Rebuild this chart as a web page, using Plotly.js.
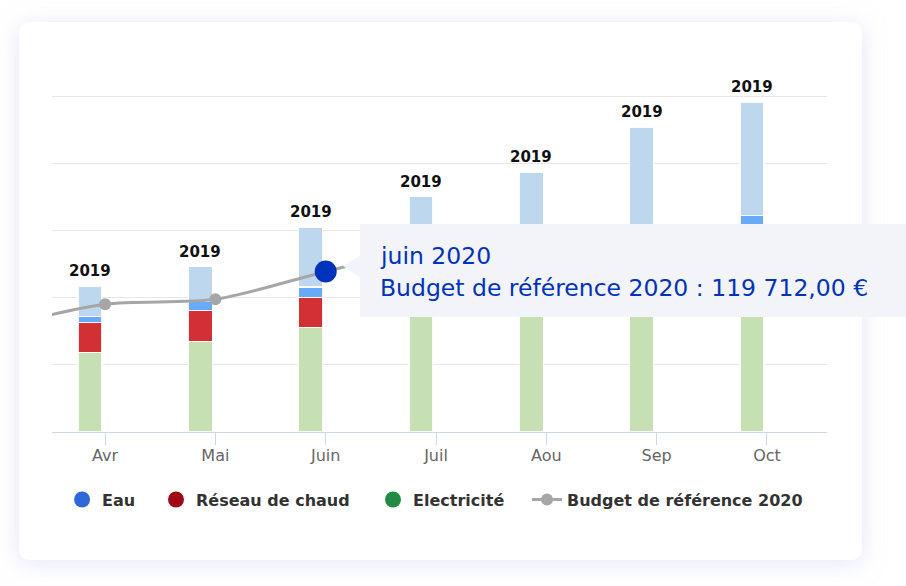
<!DOCTYPE html>
<html>
<head>
<meta charset="utf-8">
<script src="https://cdn.plot.ly/plotly-3.0.1.min.js"></script>
<style>
  html, body { margin: 0; padding: 0; background: #ffffff; width: 906px; height: 586px; overflow: hidden; }
  #card { position: absolute; left: 19px; top: 22px; width: 843px; height: 538px; background: #ffffff;
          border-radius: 10px; box-shadow: 0 3px 22px rgba(205, 210, 240, 0.55); }
  #chart { position: absolute; left: 0; top: 0; width: 906px; height: 586px; }
</style>
</head>
<body>
<div id="card"></div>
<div id="chart"></div>
<script>
// Categories (Mar is only used by the budget line, outside the visible range)
const categories = ['Mar', 'Avr', 'Mai', 'Juin', 'Juil', 'Aou', 'Sep', 'Oct'];
const barMonths = ['Avr', 'Mai', 'Juin', 'Juil', 'Aou', 'Sep', 'Oct'];

// 2019 stacked consumption (€)
const electricite2019 = [59400, 67600, 78000, 86500, 92900, 100300, 122600];
const reseauChaud2019 = [22300, 22700, 22300, 22300, 22300, 23800, 26000];
const eau2019        = [4500, 7400, 7800, 7400, 7400, 8200, 12600];
const autre2019      = [22300, 25600, 44600, 59100, 71300, 95100, 84700];
const yearLabel = '2019';

// Budget de référence 2020 (€)
const budgetMonths = ['Mar', 'Avr', 'Mai', 'Juin', 'Juil'];
const budget2020 = [77500, 95300, 99000, 119712, 140000];

// Hovered point
const hoverMonth = 'Juin';
const hoverTitle = 'juin 2020';
const hoverLabel = 'Budget de référence 2020 : 119 712,00 €';

const totals = barMonths.map((m, i) => electricite2019[i] + reseauChaud2019[i] + eau2019[i] + autre2019[i]);
const hoverValue = budget2020[budgetMonths.indexOf(hoverMonth)];

const barOffset = -0.245, barWidth = 0.218;
const barLine = { color: 'rgba(255,255,255,0.9)', width: 1.2 };
function barTrace(name, values, color) {
  return { type: 'bar', name: name, x: barMonths, y: values, offset: barOffset, width: barWidth,
           marker: { color: color, line: barLine }, showlegend: false, hoverinfo: 'skip' };
}
// legend-only proxies: single point placed on the hidden 'Mar' category (clipped, not visible)
function legendDot(name, color, legendId) {
  return { type: 'scatter', mode: 'markers', name: name, x: [categories[0]], y: [0],
           marker: { color: color, size: 16, symbol: 'circle' }, cliponaxis: true,
           showlegend: true, legend: legendId, hoverinfo: 'skip' };
}

const traces = [
  barTrace('Electricité 2019', electricite2019, '#c6e0b4'),
  barTrace('Réseau de chaud 2019', reseauChaud2019, '#d23035'),
  barTrace('Eau 2019', eau2019, '#66aaf9'),
  barTrace('Autre 2019', autre2019, '#bdd7ee'),
  legendDot('Eau', '#2f68d8', 'legend'),
  legendDot('Réseau de chaud', '#a00a14', 'legend2'),
  legendDot('Electricité', '#218a44', 'legend3'),
  { type: 'scatter', mode: 'lines+markers', name: 'Budget de référence 2020', x: budgetMonths, y: budget2020,
    line: { color: '#a6a6a6', width: 3, shape: 'spline', smoothing: 0.8 },
    marker: { color: '#a6a6a6', size: 12 }, legend: 'legend4', hoverinfo: 'skip' },
  { type: 'scatter', mode: 'markers', name: 'hover', x: [hoverMonth], y: [hoverValue],
    marker: { color: '#0033bb', size: 22 }, showlegend: false, hoverinfo: 'skip' }
];

const annotations = barMonths.map((m, i) => ({
  x: m, y: totals[i], xref: 'x', yref: 'y', text: yearLabel, showarrow: false,
  xanchor: 'center', yanchor: 'bottom', xshift: -15, yshift: 4,
  font: { family: 'DejaVu Sans', size: 15, color: '#111111', weight: 'bold' }
}));
const tipFont = { family: 'DejaVu Sans', size: 23.5, color: '#0033bb' };
annotations.push({
  x: 0.4206, y: 0.5207, xref: 'paper', yref: 'paper', text: hoverTitle, showarrow: false,
  xanchor: 'left', yanchor: 'middle', font: tipFont
});
annotations.push({
  x: 0.4206, y: 0.4260, xref: 'paper', yref: 'paper', text: hoverLabel, showarrow: false,
  xanchor: 'left', yanchor: 'middle', font: tipFont
});

const shapes = [
  { type: 'rect', xref: 'paper', yref: 'paper', x0: 0.3974, x1: 1.102, y0: 0.3402, y1: 0.6154,
    fillcolor: '#f2f4fa', line: { width: 0 }, layer: 'above' },
  { type: 'path', xref: 'paper', yref: 'paper',
    path: 'M 0.3980 0.5237 L 0.3755 0.4911 L 0.3980 0.4556 Z',
    fillcolor: '#f2f4fa', line: { width: 0 }, layer: 'above' }
];

const legendFont = { family: 'DejaVu Sans', size: 16, color: '#333333', weight: 'bold' };
function legendBox(x) {
  return { orientation: 'h', x: x, xanchor: 'left', y: -0.2, yanchor: 'middle',
           font: legendFont, bgcolor: 'rgba(0,0,0,0)' };
}

const layout = {
  width: 906, height: 586,
  margin: { l: 52, r: 79, t: 94, b: 154 },
  paper_bgcolor: 'rgba(0,0,0,0)', plot_bgcolor: 'rgba(0,0,0,0)',
  barmode: 'stack',
  showlegend: true,
  legend: legendBox(0.013),
  legend2: legendBox(0.1342),
  legend3: legendBox(0.4142),
  legend4: legendBox(0.6129),
  xaxis: { type: 'category', categoryorder: 'array', categoryarray: categories,
           range: [0.519, 7.544], showgrid: false, zeroline: false,
           showline: true, linecolor: '#ccd6eb', linewidth: 1,
           ticks: 'outside', ticklen: 12, tickcolor: '#ccd6eb', tickwidth: 1, ticklabelstandoff: -3,
           tickfont: { family: 'DejaVu Sans', size: 16, color: '#666666' }, fixedrange: true },
  yaxis: { range: [0, 252000], dtick: 50000, showgrid: true, gridcolor: '#e6e6e6', gridwidth: 1,
           zeroline: false, showticklabels: false, showline: false, fixedrange: true },
  annotations: annotations,
  shapes: shapes,
  hovermode: false
};

Plotly.newPlot('chart', traces, layout, { displayModeBar: false, staticPlot: true });
</script>
</body>
</html>
